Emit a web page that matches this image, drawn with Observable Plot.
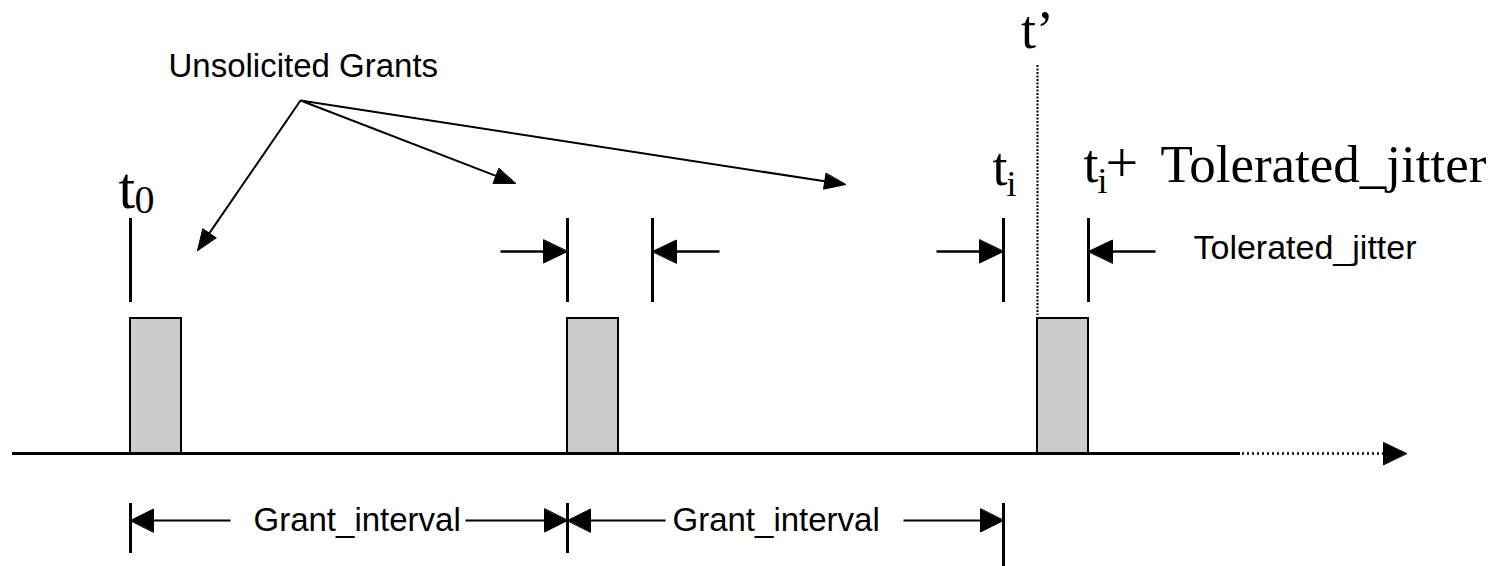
<!DOCTYPE html>
<html>
<head>
<meta charset="utf-8">
<script src="https://cdn.jsdelivr.net/npm/d3@7"></script>
<script src="https://cdn.jsdelivr.net/npm/@observablehq/plot@0.6"></script>
<style>
  html, body { margin: 0; padding: 0; background: #ffffff; }
  #chart svg { display: block; }
</style>
</head>
<body>
<div id="chart"></div>
<script>
// ---------------- data (time units, t0 = 0) ----------------
const grantStarts = [0, 437, 907];          // unsolicited grant transmissions
const grantDuration = [51];
const nominalTimes = [0, 437, 873];         // t0, t0 + Grant_interval, ti
const jitterWindowStarts = [437, 873];      // nominal grant times with a jitter window
const toleratedJitter = [85];
const tPrime = [907];                       // t'
const pointerTargets = [67, 385, 715];      // where the "Unsolicited Grants" arrows point
const intervalLabels = ["Grant_interval", "Grant_interval"];
const titleLabel = ["Unsolicited Grants"];
const jitterLabel = ["Tolerated_jitter"];

// ---------------- layout (pixels) ----------------
const L = {
  W: 1508, H: 566, xOffset: 130,
  baseY: 453, grantTop: 318,
  tickTop: 218, tickBottom: 302,
  jitterY: 251, jitterArrowLen: 67,
  dimY: 520, dimTickTop: 503, dimTickBottom: 553, dimTickBottomLast: 566,
  axisStart: -118, axisSolidEnd: 1110, axisTip: 1276,
  pointerOrigin: [170, 100],
  serif: "'Liberation Serif', 'Times New Roman', serif",
  sans: "'Liberation Sans', Arial, sans-serif",
  bigSize: 54, subSize: 36, sansSize: 33
};

const J = toleratedJitter[0];
const D = grantDuration[0];

// ---------------- arrow geometry ----------------
const arrowGroups = {jitter: [], dim: [], pointer: []};
function addArrow(group, x1, y1, x2, y2, len, hw) {
  const dx = x2 - x1, dy = y2 - y1, n = Math.hypot(dx, dy);
  const ux = dx / n, uy = dy / n;
  const bx = x2 - ux * len, by = y2 - uy * len;
  arrowGroups[group].push({
    line: {x1, y1, x2: bx, y2: by},
    head: [
      {x: x2, y: y2},
      {x: bx - uy * hw, y: by + ux * hw},
      {x: bx + uy * hw, y: by - ux * hw}
    ]
  });
}

// jitter window arrows (pointing inward at both edges)
for (const s of jitterWindowStarts) {
  addArrow("jitter", s - L.jitterArrowLen, L.jitterY, s, L.jitterY, 24, 11.5);
  addArrow("jitter", s + J + L.jitterArrowLen, L.jitterY, s + J, L.jitterY, 24, 11.5);
}
// dimension arrows for Grant_interval (line gaps leave room for the labels)
const dimGaps = [[100, 335], [535, 773]];
nominalTimes.slice(0, -1).forEach((a, i) => {
  const b = nominalTimes[i + 1];
  addArrow("dim", dimGaps[i][0], L.dimY, a, L.dimY, 23, 11.5);
  addArrow("dim", dimGaps[i][1], L.dimY, b, L.dimY, 23, 11.5);
});
// pointer arrows from "Unsolicited Grants"
const pointerYs = [250, 183, 184];
pointerTargets.forEach((t, i) => {
  addArrow("pointer", L.pointerOrigin[0], L.pointerOrigin[1], t, pointerYs[i], 21, 8);
});

const linesOf = g => arrowGroups[g].map(a => a.line);
const headsOf = g => arrowGroups[g].flatMap((a, i) => a.head.map(p => ({...p, id: g + i})));

// axis arrow head
const axisHead = [
  {x: L.axisTip, y: L.baseY, id: "axis"},
  {x: L.axisTip - 23, y: L.baseY - 11, id: "axis"},
  {x: L.axisTip - 23, y: L.baseY + 11, id: "axis"}
];

const allHeads = [...headsOf("jitter"), ...headsOf("dim"), ...headsOf("pointer"), ...axisHead];

// tick positions above the grants
const upperTicks = [nominalTimes[0], ...jitterWindowStarts.flatMap(s => [s, s + J])];

const txt = (data, o) => Plot.text(data, {text: d => d, textAnchor: "start", lineAnchor: "bottom", fill: "black", ...o});

const plot = Plot.plot({
  width: L.W,
  height: L.H,
  margin: 0,
  x: {domain: [-L.xOffset, L.W - L.xOffset], range: [0, L.W], axis: null},
  y: {domain: [0, L.H], range: [0, L.H], axis: null},
  style: {background: "#ffffff", color: "black"},
  marks: [
    // time axis
    Plot.ruleY([L.baseY], {x1: L.axisStart, x2: L.axisSolidEnd, stroke: "black", strokeWidth: 3}),
    Plot.ruleY([L.baseY], {x1: L.axisSolidEnd + 2, x2: L.axisTip - 23, stroke: "black", strokeWidth: 2.5, strokeDasharray: "2,3"}),
    // t' dotted marker
    Plot.ruleX(tPrime, {y1: 65, y2: 315, stroke: "black", strokeWidth: 2, strokeDasharray: "2,1.5"}),
    // grants
    Plot.rect(grantStarts, {x1: d => d, x2: d => d + D, y1: L.grantTop, y2: L.baseY, fill: "#cccccc", stroke: "black", strokeWidth: 2}),
    // upper ticks
    Plot.ruleX(upperTicks, {y1: L.tickTop, y2: L.tickBottom, stroke: "black", strokeWidth: 3}),
    // dimension ticks
    Plot.ruleX(nominalTimes.slice(0, -1), {y1: L.dimTickTop, y2: L.dimTickBottom, stroke: "black", strokeWidth: 3}),
    Plot.ruleX(nominalTimes.slice(-1), {y1: L.dimTickTop, y2: L.dimTickBottomLast, stroke: "black", strokeWidth: 3}),
    // arrow shafts
    Plot.link(linesOf("jitter"), {x1: "x1", y1: "y1", x2: "x2", y2: "y2", stroke: "black", strokeWidth: 2.5}),
    Plot.link(linesOf("dim"), {x1: "x1", y1: "y1", x2: "x2", y2: "y2", stroke: "black", strokeWidth: 2}),
    Plot.link(linesOf("pointer"), {x1: "x1", y1: "y1", x2: "x2", y2: "y2", stroke: "black", strokeWidth: 2}),
    // arrow heads
    Plot.line(allHeads, {x: "x", y: "y", z: "id", curve: "linear-closed", fill: "black", stroke: "black", strokeWidth: 1}),
    // sans labels
    txt(titleLabel, {x: 38, y: 76, fontSize: L.sansSize, fontFamily: L.sans}),
    txt(jitterLabel, {x: 1063, y: 258, fontSize: 34, fontFamily: L.sans}),
    txt(intervalLabels, {x: (d, i) => [123, 542][i], y: 530, fontSize: L.sansSize, fontFamily: L.sans}),
    // serif time labels
    txt(["t"], {x: nominalTimes[0] - 12, y: 207, fontSize: 60, fontFamily: L.serif}),
    txt(["0"], {x: nominalTimes[0] + 4, y: 212, fontSize: 40, fontFamily: L.serif}),
    txt(["t"], {x: nominalTimes[2] - 11, y: 184, fontSize: L.bigSize, fontFamily: L.serif}),
    txt(["i"], {x: nominalTimes[2] + 3, y: 195, fontSize: L.subSize, fontFamily: L.serif}),
    txt(["t"], {x: jitterWindowStarts[1] + J - 5, y: 181, fontSize: L.bigSize, fontFamily: L.serif}),
    txt(["i"], {x: jitterWindowStarts[1] + J + 9, y: 192, fontSize: L.subSize, fontFamily: L.serif}),
    txt(["+"], {x: jitterWindowStarts[1] + J + 17, y: 181, fontSize: 58, fontFamily: L.serif}),
    txt(["Tolerated_jitter"], {x: jitterWindowStarts[1] + J + 72, y: 181, fontSize: 53, fontFamily: L.serif}),
    Plot.text(["t\u2019"], {x: tPrime[0], y: 47, text: d => d, textAnchor: "middle", lineAnchor: "bottom", fontSize: L.bigSize, fontFamily: L.serif, fill: "black"})
  ]
});

document.getElementById("chart").appendChild(plot);
</script>
</body>
</html>
